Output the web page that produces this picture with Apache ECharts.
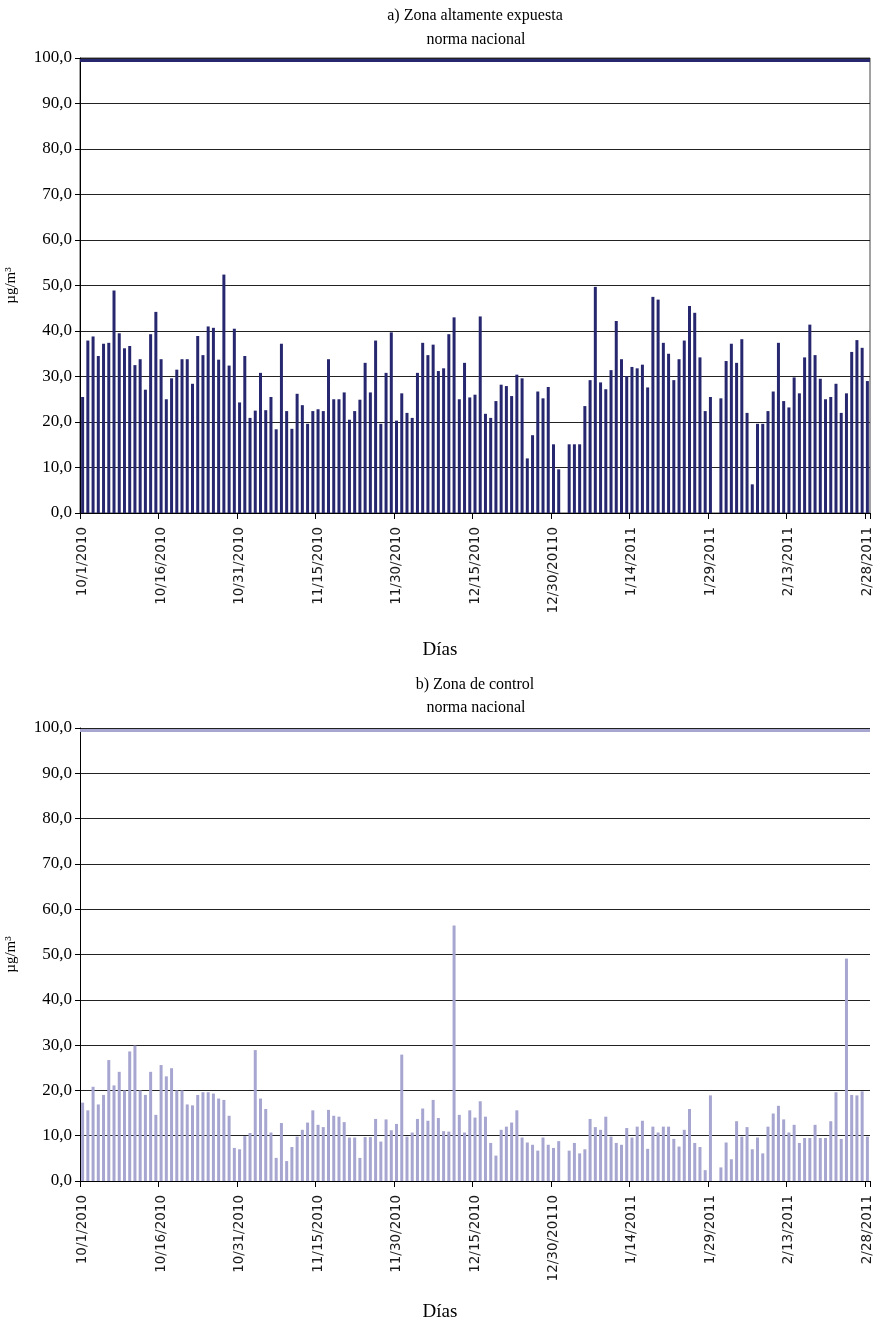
<!DOCTYPE html>
<html>
<head>
<meta charset="utf-8">
<script src="https://cdn.jsdelivr.net/npm/echarts@6/dist/echarts.min.js"></script>
<style>
html,body{margin:0;padding:0;background:#fff;}
#c{width:880px;height:1325px;}
</style>
</head>
<body>
<div id="c"></div>
<script>
// ---- data ----
const startDate = [2010, 10, 1];      // first day (10/1/2010)
const dayCount = 151;                 // 10/1/2010 .. 2/28/2011
const tickLabels = ['10/1/2010','10/16/2010','10/31/2010','11/15/2010','11/30/2010','12/15/2010','12/30/20110','1/14/2011','1/29/2011','2/13/2011','2/28/2011'];
const normaNacional = 99.6;

const zonaExpuesta = [
  25.5, 37.9, 38.8, 34.5, 37.2, 37.4, 48.9, 39.5, 36.2, 36.7, 32.5, 33.8, 27.1, 39.3, 44.2, 33.8, 25.0, 29.6, 31.5, 33.8,
  33.8, 28.4, 38.9, 34.7, 41.0, 40.7, 33.7, 52.4, 32.4, 40.5, 24.3, 34.5, 20.9, 22.5, 30.8, 22.6, 25.5, 18.4,
  37.2, 22.4, 18.5, 26.2, 23.7, 19.6, 22.4, 22.8, 22.4, 33.8, 25.0, 25.0, 26.5, 20.5, 22.4, 24.9, 33.0, 26.5, 37.9, 19.6,
  30.8, 39.7, 20.3, 26.3, 22.0, 20.9, 30.8, 37.4, 34.7, 37.0, 31.2, 31.8, 39.3, 43.0, 25.0, 33.0, 25.4, 26.0, 43.2,
  21.8, 20.9, 24.6, 28.2, 27.9, 25.7, 30.4, 29.6, 12.0, 17.1, 26.7, 25.2, 27.7, 15.1, 9.6, null, 15.1, 15.1, 15.1, 23.5,
  29.2, 49.7, 28.7, 27.2, 31.4, 42.2, 33.8, 30.1, 32.1, 31.8, 32.6, 27.6, 47.5, 46.9, 37.4, 35.0, 29.2, 33.8,
  37.9, 45.5, 44.0, 34.2, 22.4, 25.5, null, 25.2, 33.4, 37.2, 33.0, 38.2, 22.0, 6.3, 19.6, 19.6, 22.4, 26.7, 37.4, 24.6,
  23.2, 29.8, 26.3, 34.2, 41.4, 34.7, 29.5, 25.0, 25.5, 28.4, 22.0, 26.3, 35.4, 38.0, 36.3, 29.0
];

const zonaControl = [
  17.3, 15.6, 20.8, 16.9, 19.0, 26.7, 21.1, 24.1, 20.0, 28.6, 29.9, 20.0, 19.0, 24.1, 14.6, 25.6, 23.1, 24.9, 20.0, 20.0,
  16.9, 16.7, 19.0, 19.6, 19.6, 19.3, 18.2, 17.9, 14.4, 7.3, 7.0, 9.9, 10.6, 28.9, 18.2, 15.9, 10.7, 5.1,
  12.8, 4.4, 7.5, 9.8, 11.3, 12.9, 15.6, 12.4, 11.9, 15.7, 14.4, 14.2, 13.0, 9.6, 9.6, 5.1, 9.7, 9.7, 13.7, 8.7,
  13.6, 11.2, 12.6, 27.9, 9.8, 10.7, 13.7, 16.0, 13.3, 17.9, 13.9, 11.0, 10.9, 56.4, 14.6, 10.7, 15.6,
  14.0, 17.6, 14.2, 8.4, 5.6, 11.3, 12.0, 12.9, 15.6, 9.6, 8.5, 8.0, 6.7, 9.6, 8.0, 7.3, 8.8, null, 6.7, 8.4,
  6.1, 7.0, 13.7, 11.9, 11.3, 14.2, 9.8, 8.4, 8.0, 11.7, 9.6, 12.0, 13.3, 7.1, 12.0, 10.7, 12.0, 12.0, 9.3, 7.6,
  11.3, 15.9, 8.4, 7.5, 2.4, 18.9, null, 3.0, 8.5, 4.8, 13.2, 9.8, 11.9, 7.0, 9.6, 6.1, 12.0, 14.9, 16.6, 13.6,
  10.7, 12.4, 8.4, 9.5, 9.5, 12.4, 9.5, 9.5, 13.2, 19.6, 9.3, 49.1, 19.0, 18.9, 19.8, 9.8
];

// ---- build categories ----
const categories = [];
for (let i = 0; i < dayCount; i++) {
  const d = new Date(startDate[0], startDate[1] - 1, startDate[2] + i);
  categories.push((d.getMonth() + 1) + '/' + d.getDate() + '/' + d.getFullYear());
}

const serif = 'Liberation Serif';
const darkBar = '#27276f';
const lightBar = '#a7a6d1';

function xAxisFor(gridIndex) {
  return {
    type: 'category', gridIndex: gridIndex, data: categories, boundaryGap: true,
    axisLine: {lineStyle: {color: '#000', width: 1}},
    axisTick: {show: true, interval: 14, length: 6, lineStyle: {color: '#000'}},
    axisLabel: {
      interval: 14, rotate: 90, margin: 14, color: '#1a1a1a',
      fontFamily: 'DejaVu Sans', fontSize: 13.5, fontWeight: 'normal',
      formatter: function (v, idx) { return tickLabels[Math.round(idx / 15)] || ''; }
    },
    splitLine: {show: false}
  };
}
function yAxisFor(gridIndex) {
  return {
    type: 'value', gridIndex: gridIndex, min: 0, max: 100, interval: 10,
    name: 'µg/m³', nameLocation: 'middle', nameGap: 61, nameRotate: 90,
    nameTextStyle: {fontFamily: serif, fontSize: 15, color: '#000'},
    axisLine: {show: true, lineStyle: {color: '#000'}},
    axisTick: {show: true, length: 5, lineStyle: {color: '#000'}},
    axisLabel: {
      margin: 8, color: '#000', fontFamily: serif, fontSize: 17,
      formatter: function (v) { return v.toFixed(1).replace('.', ','); }
    },
    splitLine: {show: true, lineStyle: {color: '#222', width: 1}}
  };
}

const chart = echarts.init(document.getElementById('c'), null, {renderer: 'canvas'});
chart.setOption({
  animation: false,
  backgroundColor: '#fff',
  grid: [
    {left: 80, width: 790, top: 58, height: 455, containLabel: false, outerBoundsMode: 'none', show: true, borderColor: '#444', borderWidth: 1, backgroundColor: 'transparent'},
    {left: 80, width: 790, top: 728, height: 453, containLabel: false, outerBoundsMode: 'none'}
  ],
  xAxis: [xAxisFor(0), xAxisFor(1)],
  yAxis: [yAxisFor(0), yAxisFor(1)],
  series: [
    {
      type: 'bar', xAxisIndex: 0, yAxisIndex: 0, data: zonaExpuesta, barWidth: 3,
      itemStyle: {color: darkBar},
      markLine: {
        silent: true, symbol: 'none', label: {show: false},
        lineStyle: {color: darkBar, width: 3, type: 'solid'},
        data: [{yAxis: normaNacional}]
      }
    },
    {
      type: 'bar', xAxisIndex: 1, yAxisIndex: 1, data: zonaControl, barWidth: 3,
      itemStyle: {color: lightBar},
      markLine: {
        silent: true, symbol: 'none', label: {show: false},
        lineStyle: {color: lightBar, width: 3, type: 'solid'},
        data: [{yAxis: normaNacional}]
      }
    }
  ],
  graphic: [
    {type: 'text', x: 475, y: 16, style: {text: 'a) Zona altamente expuesta', font: '16px "Liberation Serif"', fill: '#000', align: 'center', verticalAlign: 'middle'}},
    {type: 'text', x: 476, y: 40, style: {text: 'norma nacional', font: '16px "Liberation Serif"', fill: '#000', align: 'center', verticalAlign: 'middle'}},
    {type: 'text', x: 440, y: 650, style: {text: 'Días', font: '19px "Liberation Serif"', fill: '#000', align: 'center', verticalAlign: 'middle'}},
    {type: 'text', x: 475, y: 685, style: {text: 'b) Zona de control', font: '16px "Liberation Serif"', fill: '#000', align: 'center', verticalAlign: 'middle'}},
    {type: 'text', x: 476, y: 708, style: {text: 'norma nacional', font: '16px "Liberation Serif"', fill: '#000', align: 'center', verticalAlign: 'middle'}},
    {type: 'text', x: 440, y: 1312, style: {text: 'Días', font: '19px "Liberation Serif"', fill: '#000', align: 'center', verticalAlign: 'middle'}}
  ]
});
</script>
</body>
</html>
